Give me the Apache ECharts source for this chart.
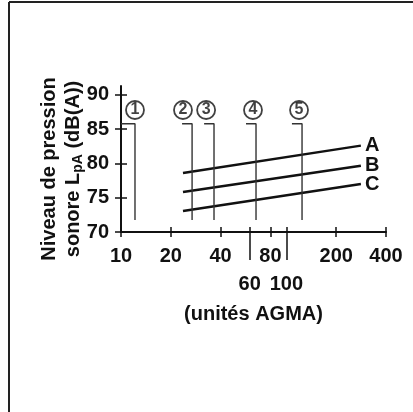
<!DOCTYPE html>
<html>
<head>
<meta charset="utf-8">
<script src="https://cdn.jsdelivr.net/npm/echarts@6/dist/echarts.min.js"></script>
<style>
  html, body { margin: 0; padding: 0; background: #fff; }
  #main { width: 413px; height: 412px; }
</style>
</head>
<body>
<div id="main"></div>
<script>
// axes
const xTicks = [10, 20, 40, 80, 200, 400];
const xTicksLow = [60, 100];
const yTicks = [70, 75, 80, 85, 90];

// lignes A, B, C (niveau en fonction des unites AGMA)
const lineNames = ['A', 'B', 'C'];
const lineX = [23.7, 282];
const lineA = [78.6, 82.6];
const lineB = [75.85, 79.65];
const lineC = [73.05, 77.0];

// reperes 1..5
const markerNames = ['1', '2', '3', '4', '5'];
const markerStartX = [10, 23.4, 31.8, 57, 108];
const markerX = [12.15, 26.9, 36.5, 65.5, 124.3];
const markerTop = 85.8;
const markerBottom = 71.75;
const markerLabelX = [12.15, 23.7, 32.7, 62.8, 119.2];
const markerLabelY = 87.8;

const FONT = 'Liberation Sans, Arial, sans-serif';
const W = 'bold';

var myChart = echarts.init(document.getElementById('main'));

const lineData = [lineA, lineB, lineC];
const series = [];

lineNames.forEach(function (name, i) {
    series.push({
        name: name,
        type: 'line',
        symbol: 'none',
        silent: true,
        data: lineX.map(function (x, j) { return [x, lineData[i][j]]; }),
        lineStyle: { color: '#111', width: 2.5 },
        endLabel: {
            show: true,
            formatter: name,
            distance: 4,
            color: '#111',
            fontFamily: FONT,
            fontWeight: W,
            fontSize: 20
        }
    });
});

markerNames.forEach(function (name, i) {
    series.push({
        type: 'line',
        symbol: 'none',
        silent: true,
        data: [
            [markerStartX[i], markerTop],
            [markerX[i], markerTop],
            [markerX[i], markerBottom]
        ],
        lineStyle: { color: '#333', width: 1.4 }
    });
});

series.push({
    type: 'scatter',
    silent: true,
    symbol: 'circle',
    symbolSize: 18,
    data: markerLabelX.map(function (x) { return [x, markerLabelY]; }),
    itemStyle: { color: '#fff', borderColor: '#111', borderWidth: 1.8 },
    label: {
        show: true,
        position: 'inside',
        formatter: function (p) { return markerNames[p.dataIndex]; },
        color: '#111',
        fontFamily: FONT,
        fontWeight: W,
        fontSize: 16
    }
});

const baseX = {
    type: 'log',
    logBase: 10,
    min: 10,
    max: 400,
    position: 'bottom',
    splitLine: { show: false },
    minorTick: { show: false }
};

const labelStyle = { color: '#111', fontFamily: FONT, fontWeight: W, fontSize: 20 };

myChart.setOption({
    animation: false,
    backgroundColor: '#fff',
    grid: { left: 121, right: 27, top: 86, bottom: 180 },
    xAxis: [
        Object.assign({}, baseX, {
            name: '(unités AGMA)',
            nameLocation: 'middle',
            nameGap: 72,
            nameMoveOverlap: false,
            nameTextStyle: labelStyle,
            axisLine: { lineStyle: { color: '#111', width: 2 } },
            axisTick: { show: true, customValues: xTicks, length: 5, lineStyle: { color: '#111', width: 1.5 } },
            axisLabel: Object.assign({ customValues: xTicks, margin: 14 }, labelStyle)
        }),
        Object.assign({}, baseX, {
            axisLine: { show: false },
            axisTick: { show: true, inside: true, customValues: xTicks.concat(xTicksLow), length: 5, lineStyle: { color: '#111', width: 1.5 } },
            axisLabel: { show: false }
        }),
        Object.assign({}, baseX, {
            axisLine: { show: false },
            axisTick: { show: true, customValues: xTicksLow, length: 28, lineStyle: { color: '#111', width: 1.5 } },
            axisLabel: Object.assign({ customValues: xTicksLow, margin: 42 }, labelStyle)
        })
    ],
    yAxis: [
        {
            type: 'value',
            min: 70,
            max: 91.3,
            interval: 5,
            splitLine: { show: false },
            name: 'Niveau de pression\n{n|sonore L}{s|pA}{n| (dB(A))}',
            nameLocation: 'middle',
            nameRotate: 90,
            nameGap: 36,
            nameMoveOverlap: false,
            nameTextStyle: {
                color: '#111',
                fontFamily: FONT,
                fontWeight: W,
                fontSize: 20,
                lineHeight: 24,
                padding: [0, 20, 0, 0],
                rich: {
                    n: { fontFamily: FONT, fontWeight: W, fontSize: 20, color: '#111' },
                    s: { fontFamily: FONT, fontWeight: W, fontSize: 14, color: '#111', padding: [10, 0, 0, 0] }
                }
            },
            axisLine: { show: true, lineStyle: { color: '#111', width: 2 } },
            axisTick: { show: true, customValues: yTicks, length: 6, lineStyle: { color: '#111', width: 1.5 } },
            axisLabel: Object.assign({ customValues: yTicks, margin: 12 }, labelStyle)
        },
        {
            type: 'value',
            min: 70,
            max: 91.3,
            position: 'left',
            splitLine: { show: false },
            axisLine: { show: false },
            axisTick: { show: true, inside: true, customValues: yTicks.slice(1), length: 6, lineStyle: { color: '#111', width: 1.5 } },
            axisLabel: { show: false }
        }
    ],
    graphic: [
        { type: 'line', shape: { x1: 9, y1: 2, x2: 413, y2: 2 }, style: { stroke: '#222', lineWidth: 2 } },
        { type: 'line', shape: { x1: 9, y1: 2, x2: 9, y2: 412 }, style: { stroke: '#222', lineWidth: 2 } }
    ],
    series: series
});
</script>
</body>
</html>
